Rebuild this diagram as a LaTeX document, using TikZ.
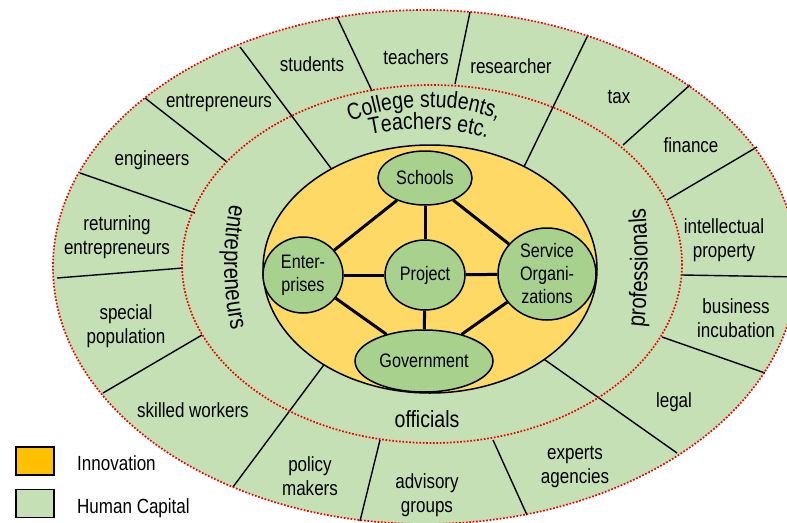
\documentclass[tikz,border=0pt]{standalone}
\usepackage{fontspec}
\setmainfont{Liberation Sans}[FakeStretch=0.83]
\usetikzlibrary{shapes.geometric,decorations.text}
\definecolor{hcgreen}{HTML}{C5E0B4}
\definecolor{ndgreen}{HTML}{A9D18E}
\definecolor{innoyel}{HTML}{FFD966}
\definecolor{innoor}{HTML}{FFC000}
\definecolor{dotred}{HTML}{F00000}
\newcommand\midfont{\fontsize{23.5}{26}\selectfont}
\newcommand\sidefont{\fontsize{24.5}{26}\selectfont}
\begin{document}
\begin{tikzpicture}[x=1pt,y=-1pt,
  reddots/.style={draw=dotred, line width=1.7pt, dash pattern=on 1.7pt off 1.7pt},
  divider/.style={draw=black, line width=1.4pt},
  agent/.style={ellipse, draw=black, line width=1.5pt, fill=ndgreen, inner sep=0pt, align=center, font=\fontsize{19.5}{23}\selectfont},
  link/.style={draw=black, line width=3pt},
  ringlbl/.style={align=center, font=\fontsize{20.5}{24}\selectfont, inner sep=0pt},
  legbox/.style={draw=black, line width=1.8pt, minimum width=38pt, minimum height=28pt, inner sep=0pt},
  legtext/.style={anchor=base west, inner sep=0pt, font=\fontsize{20.5}{24}\selectfont}
]
\useasboundingbox (0,0) rectangle (787,522);
\clip (0,0) rectangle (787,522);
% outer ring
\fill[hcgreen] (425,267) ellipse [x radius=372, y radius=257];
% dividers
\foreach \xa/\ya/\xb/\yb in {
  240/47/336/175, 337/17/372/91, 470/12/455/84, 588/35/521/173,
  690/85/623/145, 757/147/667/200, 800/277/682/275, 765/373/662/337,
  677/453/538/355, 527/515/493/440, 360/521/380/440, 233/487/326/362,
  103/393/202/335, 57/278/183/268, 80/173/195/213, 145/98/227/162}
  \draw[divider] (\xa,\ya) -- (\xb,\yb);
\draw[reddots] (432,264) ellipse [x radius=250, y radius=179];
\draw[reddots] (425,267) ellipse [x radius=372, y radius=257];
% innovation core
\draw[fill=innoyel, line width=1.5pt] (430,269) ellipse [x radius=167, y radius=124];
% agents
\node[agent, minimum width=94pt, minimum height=54pt] (sch) at (425,178) {Schools};
\node[agent, minimum width=80pt, minimum height=76pt] (ent) at (303,275) {Enter-\\prises};
\node[agent, minimum width=80pt, minimum height=70pt] (prj) at (425,275) {Project};
\node[agent, minimum width=98pt, minimum height=92pt] (srv) at (547,274) {Service\\Organi-\\zations};
\node[agent, minimum width=138pt, minimum height=62pt] (gov) at (424,361) {Government};
\draw[link] (sch) -- (prj);
\draw[link] (sch) -- (ent);
\draw[link] (sch) -- (srv);
\draw[link] (ent) -- (prj);
\draw[link] (prj) -- (srv);
\draw[link] (prj) -- (gov);
\draw[link] (ent) -- (gov);
\draw[link] (srv) -- (gov);
% middle ring labels
\path[decorate, decoration={text along path, text align=center, text={|\midfont|College students,}}]
  (343,125) .. controls (390,102) and (460,101) .. (505,123);
\path[decorate, decoration={text along path, text align=center, text={|\midfont|Teachers etc.}}]
  (360,137) .. controls (400,126) and (455,126) .. (497,141);
\path[decorate, decoration={text along path, text align=center, text={|\sidefont|entrepreneurs}}]
  (233,190) .. controls (221,240) and (221,295) .. (235,344);
\path[decorate, decoration={text along path, text align=center, text={|\sidefont|professionals}}]
  (642,344) .. controls (649,292) and (649,248) .. (644,192);
\node[inner sep=0pt, font=\fontsize{23.5}{26}\selectfont] (offl) at (427,419) {officials};
% outer ring labels
\node[ringlbl] (l1) at (312,64) {students};
\node[ringlbl] (l2) at (416,57) {teachers};
\node[ringlbl] (l3) at (511,66) {researcher};
\node[ringlbl] (l4) at (619,97) {tax};
\node[ringlbl] (l5) at (691,145) {finance};
\node[ringlbl] (l6) at (724,240) {intellectual\\property};
\node[ringlbl] (l7) at (736,318) {business\\incubation};
\node[ringlbl] (l8) at (674,402) {legal};
\node[ringlbl] (l9) at (575,467) {experts\\agencies};
\node[ringlbl] (l10) at (427,495) {advisory\\groups};
\node[ringlbl] (l11) at (310,476) {policy\\makers};
\node[ringlbl] (l12) at (193,410) {skilled workers};
\node[ringlbl] (l13) at (126,326) {special\\population};
\node[ringlbl] (l14) at (117,237) {returning\\entrepreneurs};
\node[ringlbl] (l15) at (152,160) {engineers};
\node[ringlbl] (l16) at (219,103) {entrepreneurs};
% legend
\node[legbox, fill=innoor] (k1) at (35,461) {};
\node[legbox, fill=hcgreen] (k2) at (35,503.5) {};
\node[legtext] (k1t) at (77,470) {Innovation};
\node[legtext] (k2t) at (77,513) {Human Capital};
\end{tikzpicture}
\end{document}
